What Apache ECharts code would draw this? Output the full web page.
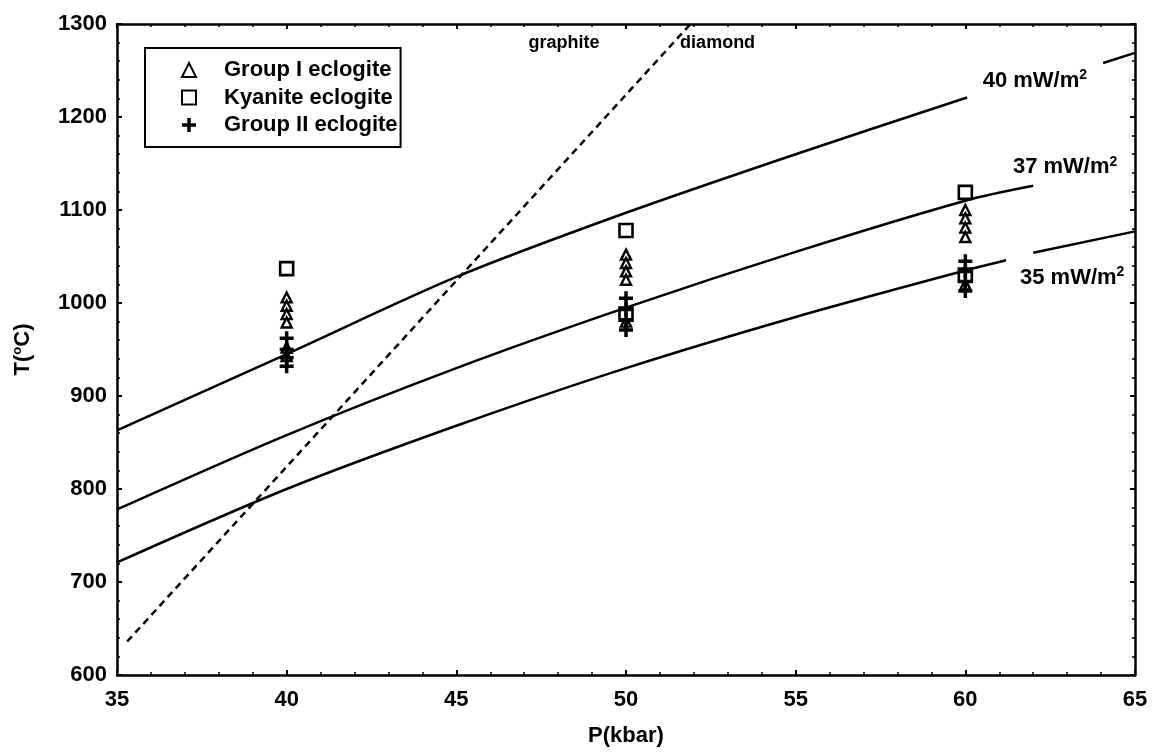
<!DOCTYPE html>
<html><head><meta charset="utf-8">
<script src="https://cdn.jsdelivr.net/npm/echarts@6/dist/echarts.min.js"></script>
<style>html,body{margin:0;padding:0;background:#fff}#c{width:1155px;height:755px}</style>
</head><body><div id="c"></div>
<script>
// Geotherms (P kbar, T °C); '-' marks a gap in the drawn curve
const geotherm40 = [[35,863],[40,945],[45,1028],[50,1097],[55,1160],[60.05,1221],['-','-'],[64.06,1258],[65,1269]];
const geotherm37 = [[35,778],[40,858],[45,930],[50,995],[55,1055],[60,1110],[62,1126]];
const geotherm35 = [[35,721],[40,800],[45,868],[50,930],[55,985],[60,1035],[61.2,1046],['-','-'],[62,1054],[65,1077]];
// Graphite–diamond boundary
const graphiteDiamond = [[35.3,636],[51.9,1300]];
// Samples
const groupI = [[40,1006],[40,997],[40,988],[40,979],[40,952],[40,943],
                [50,1052],[50,1043],[50,1034],[50,1025],[50,990],[50,980],
                [60,1100],[60,1091],[60,1081],[60,1071],[60,1030],[60,1020]];
const kyanite = [[40,1037],[50,1078],[50,988],[60,1119],[60,1030]];
const groupII = [[40,962],[40,950],[40,941],[40,932],
                 [50,1005],[50,993],[50,982],[50,971],
                 [60,1045],[60,1034],[60,1023],[60,1013]];
// Text annotations (anchor in data units)
const annotations = [
  {text:'{b|40 mW/m}{sup|2}', p:62.05, t:1239},
  {text:'{b|37 mW/m}{sup|2}', p:62.94, t:1146},
  {text:'{b|35 mW/m}{sup|2}', p:63.15, t:1027},
  {text:'{s|graphite}', p:48.17, t:1280},
  {text:'{s|diamond}', p:52.7, t:1280}
];
const seriesNames = ['Group I eclogite','Kyanite eclogite','Group II eclogite'];

const FONT = 'Liberation Sans';
const txt = {fontFamily: FONT, fontWeight: 'bold', color: '#000'};
const plusPath = 'path://M4.5,0H7.5V4.5H12V7.5H7.5V12H4.5V7.5H0V4.5H4.5Z';

const chart = echarts.init(document.getElementById('c'));
const axisCommon = {
  axisLine: {show: true, onZero: false, lineStyle: {color: '#000', width: 2.5}},
  axisTick: {show: true, inside: true, length: 5, lineStyle: {color: '#000', width: 2}},
  minorTick: {show: true, splitNumber: 5, length: 3, lineStyle: {color: '#000', width: 1.5}},
  splitLine: {show: false}
};
const lineStyleSolid = {color: '#000', width: 2.5};
chart.setOption({
  animation: false,
  backgroundColor: '#fff',
  grid: {left: 117, right: 20, top: 24, bottom: 80},
  xAxis: [
    Object.assign({type: 'value', min: 35, max: 65, interval: 5, position: 'bottom',
      name: 'P(kbar)', nameLocation: 'middle', nameGap: 50,
      nameTextStyle: Object.assign({fontSize: 22}, txt),
      axisLabel: Object.assign({fontSize: 22, margin: 14, formatter: v => String(v)}, txt)}, axisCommon),
    Object.assign({type: 'value', min: 35, max: 65, interval: 5, position: 'top',
      axisLabel: {show: false}}, axisCommon)
  ],
  yAxis: [
    Object.assign({type: 'value', min: 600, max: 1300, interval: 100, position: 'left',
      name: 'T({sup|o}C)', nameLocation: 'middle', nameGap: 82, nameRotate: 90,
      nameTextStyle: Object.assign({fontSize: 22, rich: {sup: Object.assign({fontSize: 13, padding: [0,0,11,0]}, txt)}}, txt),
      axisLabel: Object.assign({fontSize: 22, margin: 10, formatter: v => String(v)}, txt)}, axisCommon),
    Object.assign({type: 'value', min: 600, max: 1300, interval: 100, position: 'right',
      axisLabel: {show: false}}, axisCommon)
  ],
  legend: {
    data: seriesNames, orient: 'vertical', left: 145, top: 48,
    borderColor: '#000', borderWidth: 2, padding: [10, 3, 10, 36],
    itemWidth: 14, itemHeight: 14, itemGap: 3.5,
    textStyle: Object.assign({fontSize: 22, lineHeight: 24, padding: [0, 0, 0, 23]}, txt)
  },
  series: [
    {type: 'line', data: geotherm40, smooth: 0.3, showSymbol: false, lineStyle: lineStyleSolid, silent: true},
    {type: 'line', data: geotherm37, smooth: 0.3, showSymbol: false, lineStyle: lineStyleSolid, silent: true},
    {type: 'line', data: geotherm35, smooth: 0.3, showSymbol: false, lineStyle: lineStyleSolid, silent: true},
    {type: 'line', data: graphiteDiamond, showSymbol: false, lineStyle: {color: '#000', width: 2.5, type: [7, 5]}, silent: true},
    {name: seriesNames[0], type: 'scatter', data: groupI, symbol: 'triangle', symbolSize: 10,
      itemStyle: {color: '#fff', borderColor: '#000', borderWidth: 2.4, opacity: 1}, z: 3},
    {name: seriesNames[1], type: 'scatter', data: kyanite, symbol: 'rect', symbolSize: 13,
      itemStyle: {color: '#fff', borderColor: '#000', borderWidth: 2.6, opacity: 1}, z: 3},
    {name: seriesNames[2], type: 'scatter', data: groupII, symbol: plusPath, symbolSize: 14,
      itemStyle: {color: '#000', opacity: 1}, z: 4},
    {type: 'scatter', symbolSize: 0, silent: true, z: 5,
      itemStyle: {opacity: 1},
      data: annotations.map(a => ({value: [a.p, a.t], name: a.text})),
      label: {show: true, position: 'inside', formatter: p => p.name, color: '#000',
        rich: {
          b: Object.assign({fontSize: 22}, txt),
          s: Object.assign({fontSize: 18}, txt),
          sup: Object.assign({fontSize: 14, padding: [0,0,11,0]}, txt)
        }}}
  ]
});
</script></body></html>
